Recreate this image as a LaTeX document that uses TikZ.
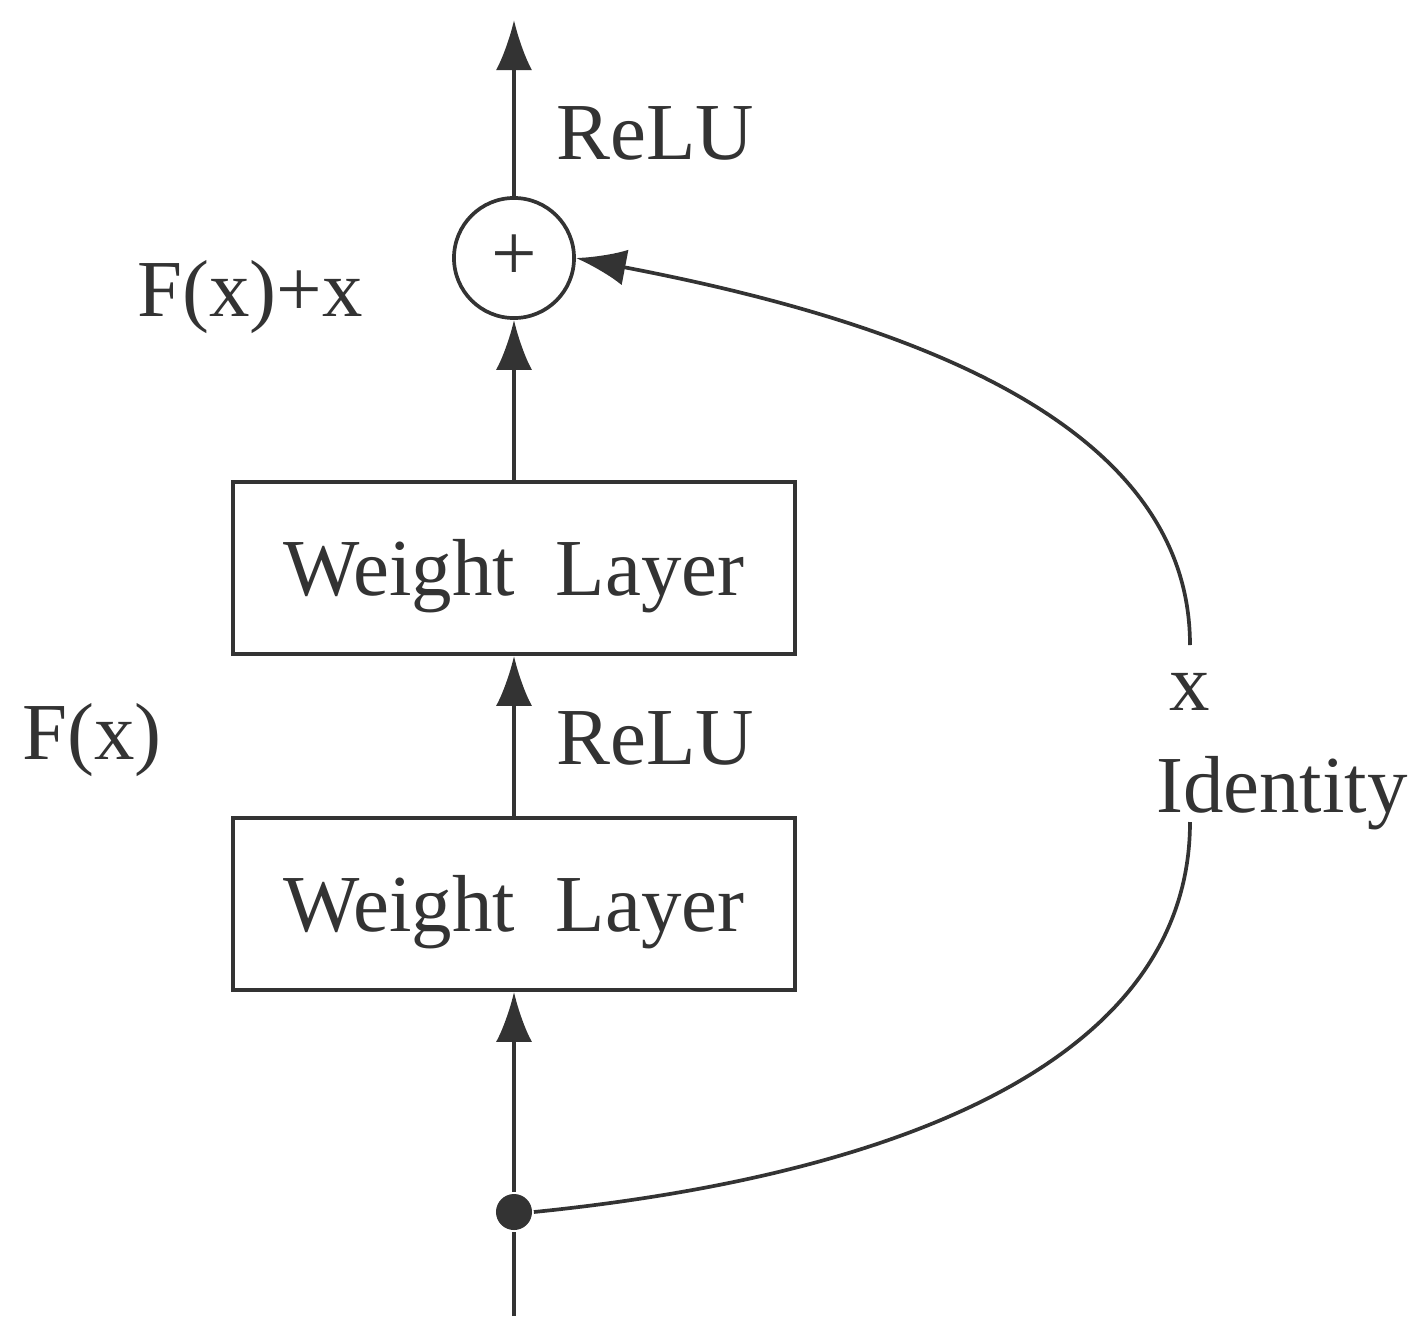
\documentclass[tikz,border=0pt]{standalone}
\usepackage{fontspec}
\setmainfont{Liberation Serif}
\usetikzlibrary{arrows.meta}
\definecolor{ink}{HTML}{333333}
\begin{document}
\begin{tikzpicture}[x=0.01cm,y=-0.01cm,
  ink, line width=1.05pt,
  arr/.style={-{Latex[length=0.5cm,width=0.36cm]}},
  box/.style={draw, minimum width=5.62cm, minimum height=1.72cm, inner sep=0pt, text height=0.55cm, text depth=0pt, font=\fontsize{23}{26}\selectfont},
  lab/.style={font=\fontsize{23}{26}\selectfont, inner sep=0pt, text=ink}]
\useasboundingbox (0,0) rectangle (1424,1342);
\node[box] (w1) at (514,904) {Weight\ \ Layer};
\node[box] (w2) at (514,568) {Weight\ \ Layer};
\node[draw, circle, minimum size=1.2cm, inner sep=0pt, font=\fontsize{23}{26}\selectfont] (p) at (514,258) {+};
\node[circle, fill=ink, minimum size=0.36cm, inner sep=0pt] (d) at (514,1212) {};
\coordinate (bot) at (514,1316);
\coordinate (top) at (514,20);
\coordinate (c1) at (1190,822);
\coordinate (c2) at (1190,645);
\draw (bot) -- (d);
\draw[arr] (d) -- (w1.south);
\draw[arr] (w1.north) -- (w2.south);
\draw[arr] (w2.north) -- (p.south);
\draw[arr] (p.north) -- (top);
\draw (d.east) .. controls (900,1175) and (1190,1060) .. (c1);
\draw[arr] (c2) .. controls (1190,420) and (900,320) .. (p.east);
\node[lab] (r1) at (655,133) {ReLU};
\node[lab] (r2) at (655,738) {ReLU};
\node[lab] (fx2) at (250,297) {F(x)+x};
\node[lab] (fx) at (92,740) {F(x)};
\node[lab] (x) at (1190,692) {x};
\node[lab] (id) at (1282,793) {Identity};
\end{tikzpicture}
\end{document}
